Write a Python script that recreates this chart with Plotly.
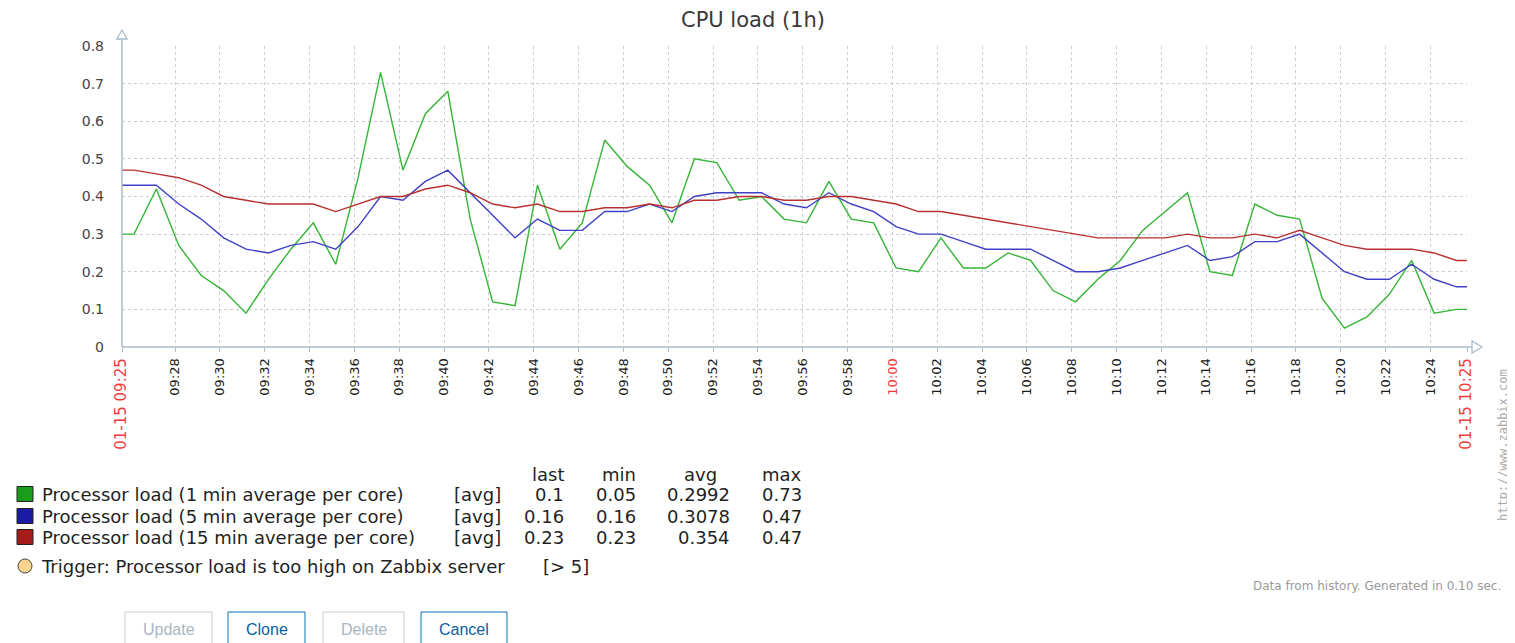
import pandas as pd
import plotly.graph_objects as go

# ---------------- data ----------------
title = "CPU load (1h)"
range_start = "2024-01-15 09:25:38"
range_end = "2024-01-15 10:25:38"
first_sample = "2024-01-15 09:26:10"

load_1min = [0.30, 0.42, 0.27, 0.19, 0.15, 0.09, 0.18, 0.26, 0.33, 0.22,
             0.45, 0.73, 0.47, 0.62, 0.68, 0.34, 0.12, 0.11, 0.43, 0.26,
             0.33, 0.55, 0.48, 0.43, 0.33, 0.50, 0.49, 0.39, 0.40, 0.34,
             0.33, 0.44, 0.34, 0.33, 0.21, 0.20, 0.29, 0.21, 0.21, 0.25,
             0.23, 0.15, 0.12, 0.18, 0.23, 0.31, 0.36, 0.41, 0.20, 0.19,
             0.38, 0.35, 0.34, 0.13, 0.05, 0.08, 0.14, 0.23, 0.09, 0.10]
load_5min = [0.43, 0.43, 0.38, 0.34, 0.29, 0.26, 0.25, 0.27, 0.28, 0.26,
             0.32, 0.40, 0.39, 0.44, 0.47, 0.41, 0.35, 0.29, 0.34, 0.31,
             0.31, 0.36, 0.36, 0.38, 0.36, 0.40, 0.41, 0.41, 0.41, 0.38,
             0.37, 0.41, 0.38, 0.36, 0.32, 0.30, 0.30, 0.28, 0.26, 0.26,
             0.26, 0.23, 0.20, 0.20, 0.21, 0.23, 0.25, 0.27, 0.23, 0.24,
             0.28, 0.28, 0.30, 0.25, 0.20, 0.18, 0.18, 0.22, 0.18, 0.16]
load_15min = [0.47, 0.46, 0.45, 0.43, 0.40, 0.39, 0.38, 0.38, 0.38, 0.36,
              0.38, 0.40, 0.40, 0.42, 0.43, 0.41, 0.38, 0.37, 0.38, 0.36,
              0.36, 0.37, 0.37, 0.38, 0.37, 0.39, 0.39, 0.40, 0.40, 0.39,
              0.39, 0.40, 0.40, 0.39, 0.38, 0.36, 0.36, 0.35, 0.34, 0.33,
              0.32, 0.31, 0.30, 0.29, 0.29, 0.29, 0.29, 0.30, 0.29, 0.29,
              0.30, 0.29, 0.31, 0.29, 0.27, 0.26, 0.26, 0.26, 0.25, 0.23]

series_names = ["Processor load (1 min average per core)",
                "Processor load (5 min average per core)",
                "Processor load (15 min average per core)"]
line_colors = ["#35b535", "#4040c4", "#b83030"]
legend_colors = ["#1a9e1a", "#1a1aa6", "#a61a1a"]
stat_last = ["0.1", "0.16", "0.23"]
stat_min = ["0.05", "0.16", "0.23"]
stat_avg = ["0.2992", "0.3078", "0.354"]
stat_max = ["0.73", "0.47", "0.47"]
y_ticks = [0, 0.1, 0.2, 0.3, 0.4, 0.5, 0.6, 0.7, 0.8]
y_labels = ["0", "0.1", "0.2", "0.3", "0.4", "0.5", "0.6", "0.7", "0.8"]
start_label = "01-15 09:25"
end_label = "01-15 10:25"
trigger_text = "Trigger: Processor load is too high on Zabbix server"
trigger_cond = "[> 5]"
buttons = ["Update", "Clone", "Delete", "Cancel"]
button_enabled = [False, True, False, True]

# ---------------- layout helpers ----------------
# page body has an 8px margin, so the figure is drawn smaller and
# reference pixel positions are mapped with that offset.
OFF = 8
W, H = 1515 - OFF, 643 - OFF
L, R, T, B = 122, 1467, 46, 347   # plot area in reference (window) pixels


def px(x):
    return (x - L) / (R - L)


def py(y):
    return (B - y) / (B - T)


times = list(pd.date_range(first_sample, periods=len(load_1min), freq="1min"))
x_all = [pd.Timestamp(range_start)] + times + [pd.Timestamp(range_end)]

fig = go.Figure()
for vals, name, col in zip([load_1min, load_5min, load_15min], series_names, line_colors):
    fig.add_trace(go.Scatter(
        x=x_all, y=[vals[0]] + vals + [vals[-1]], mode="lines", name=name,
        line=dict(color=col, width=1.4), hoverinfo="skip", showlegend=False))

# x ticks: even minutes + range edges
tick_times = list(pd.date_range("2024-01-15 09:28", "2024-01-15 10:24", freq="2min"))
red = "#f03c3c"
tickvals = [pd.Timestamp(range_start)] + tick_times + [pd.Timestamp(range_end)]
ticktext = [f"<span style='color:{red};font-size:15px'>{start_label}</span>"]
for t in tick_times:
    s = t.strftime("%H:%M")
    if s.endswith(":00"):
        ticktext.append(f"<span style='color:{red}'>{s}</span>")
    else:
        ticktext.append(s)
ticktext.append(f"<span style='color:{red};font-size:15px'>{end_label}</span>")

grid_col = "#c9cfd6"
axis_col = "#aabbca"

fig.update_xaxes(
    type="date", range=[range_start, range_end], tickvals=tickvals, ticktext=ticktext,
    tickangle=-90, showgrid=True, gridcolor=grid_col, griddash="dot", gridwidth=1,
    ticks="outside", ticklen=4, tickcolor=axis_col, showline=False, zeroline=False,
    tickfont=dict(family="DejaVu Sans", size=13, color="#1a1a1a"), ticklabelstandoff=1)
fig.update_yaxes(
    range=[0, 0.8], tickvals=y_ticks, ticktext=y_labels, showgrid=True,
    gridcolor=grid_col, griddash="dot", gridwidth=1, zeroline=False, showline=False,
    tickfont=dict(family="DejaVu Sans", size=14, color="#444444"), ticklabelstandoff=17)

shapes = []
# axes with arrows
shapes.append(dict(type="line", xref="paper", yref="paper", x0=0, x1=0, y0=0, y1=py(38),
                   line=dict(color=axis_col, width=1.5)))
shapes.append(dict(type="line", xref="paper", yref="paper", x0=0, x1=px(1472), y0=0, y1=0,
                   line=dict(color=axis_col, width=1.5)))
shapes.append(dict(type="path", xref="paper", yref="paper",
                   path=f"M {px(117)} {py(39)} L {px(127)} {py(39)} L {px(122)} {py(30)} Z",
                   line=dict(color=axis_col, width=1.3), fillcolor="white"))
shapes.append(dict(type="path", xref="paper", yref="paper",
                   path=f"M {px(1472)} {py(341)} L {px(1472)} {py(353)} L {px(1482)} {py(347)} Z",
                   line=dict(color=axis_col, width=1.3), fillcolor="white"))

ann = []
ann.append(dict(text=title, x=px(753), y=py(20), xref="paper", yref="paper", showarrow=False,
                xanchor="center", yanchor="middle",
                font=dict(family="DejaVu Sans", size=21, color="#3a3a3a")))

# legend table
legend_font = dict(family="DejaVu Sans", size=18, color="#1f1f1f")
header_y = 474
row_y = [494, 516, 537]
for hdr, xr, anchor in [("last", 566, "right"), ("min", 638, "right"),
                        ("avg", 700, "center"), ("max", 804, "right")]:
    ann.append(dict(text=hdr, x=px(xr), y=py(header_y), xref="paper", yref="paper",
                    showarrow=False, xanchor=anchor, yanchor="middle", font=legend_font))
for i in range(3):
    yc = row_y[i]
    shapes.append(dict(type="rect", xref="paper", yref="paper", x0=px(17), x1=px(33),
                       y0=py(yc - 7.5), y1=py(yc + 7.5), fillcolor=legend_colors[i],
                       line=dict(color="#222222", width=1)))
    ann.append(dict(text=series_names[i], x=px(40), y=py(yc), xref="paper", yref="paper",
                    showarrow=False, xanchor="left", yanchor="middle", font=legend_font))
    ann.append(dict(text="[avg]", x=px(452), y=py(yc), xref="paper", yref="paper",
                    showarrow=False, xanchor="left", yanchor="middle", font=legend_font))
    for val, xr in [(stat_last[i], 566), (stat_min[i], 638), (stat_avg[i], 732), (stat_max[i], 804)]:
        ann.append(dict(text=val, x=px(xr), y=py(yc), xref="paper", yref="paper",
                        showarrow=False, xanchor="right", yanchor="middle", font=legend_font))

# trigger row
shapes.append(dict(type="circle", xref="paper", yref="paper", x0=px(18), x1=px(32),
                   y0=py(559), y1=py(573), fillcolor="#fbd58e", line=dict(color="#444444", width=1)))
ann.append(dict(text=trigger_text, x=px(39), y=py(566), xref="paper", yref="paper",
                showarrow=False, xanchor="left", yanchor="middle", font=legend_font))
ann.append(dict(text=trigger_cond, x=px(541), y=py(566), xref="paper", yref="paper",
                showarrow=False, xanchor="left", yanchor="middle", font=legend_font))

# side texts
ann.append(dict(text="http://www.zabbix.com", x=px(1503), y=py(445), xref="paper", yref="paper",
                showarrow=False, textangle=-90, xanchor="center", yanchor="middle",
                font=dict(family="DejaVu Sans Mono", size=12, color="#a8a8a8")))
ann.append(dict(text="Data from history. Generated in 0.10 sec.", x=px(1503), y=py(586),
                xref="paper", yref="paper", showarrow=False, xanchor="right", yanchor="middle",
                font=dict(family="DejaVu Sans", size=12, color="#9a9a9a")))

# buttons
btn_x = [(125, 212), (228, 305), (323, 404), (421, 507)]
for label, (x0, x1), en in zip(buttons, btn_x, button_enabled):
    col = "#0a72b8" if en else "#c2cdd6"
    tcol = "#0a5f9e" if en else "#a9b6c1"
    shapes.append(dict(type="rect", xref="paper", yref="paper", x0=px(x0), x1=px(x1),
                       y0=py(660), y1=py(612), line=dict(color=col, width=1), fillcolor="white"))
    ann.append(dict(text=label, x=px((x0 + x1) / 2), y=py(629), xref="paper", yref="paper",
                    showarrow=False, xanchor="center", yanchor="middle",
                    font=dict(family="Liberation Sans", size=16, color=tcol)))

fig.update_layout(
    width=W, height=H, margin=dict(l=L - OFF, r=1515 - R, t=T - OFF, b=H + OFF - B),
    paper_bgcolor="white", plot_bgcolor="white", shapes=shapes, annotations=ann,
    showlegend=False, hovermode=False)

fig.write_html("out.html", config={"displayModeBar": False})
